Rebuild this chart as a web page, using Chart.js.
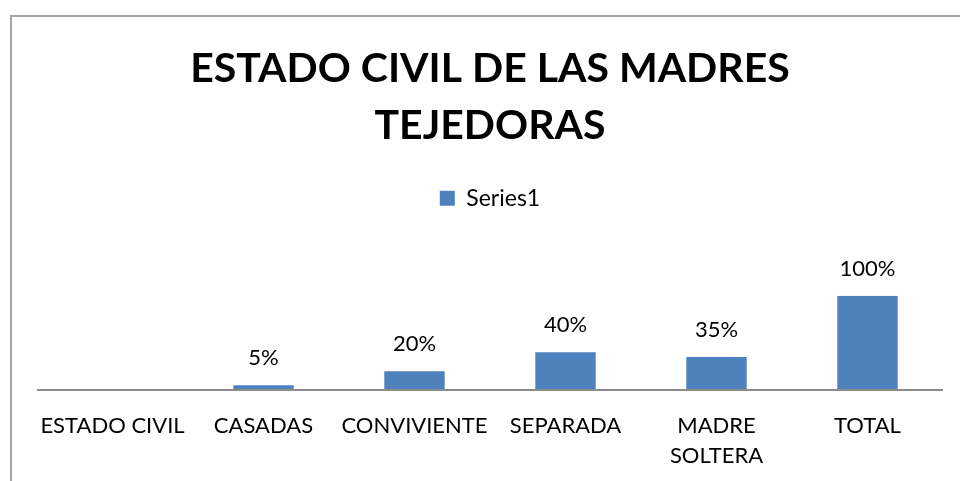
<!DOCTYPE html>
<html>
    <head>
        <meta charset="utf-8" />
        <title>Estado civil de las madres tejedoras</title>
        <script src="https://cdn.jsdelivr.net/npm/chart.js@4.4.1/dist/chart.umd.min.js"></script>
        <style>
            body { margin: 0; background: #fff; }
            #wrap { position: relative; width: 960px; height: 481px; }
            #frame {
                position: absolute; left: 10px; top: 15px; right: 0; bottom: 0;
                border-left: 2px solid #a6a6a6; border-top: 2px solid #a6a6a6;
                pointer-events: none;
            }
        </style>
        <script>
            // data
            let categories = [ "ESTADO CIVIL", "CASADAS", "CONVIVIENTE", "SEPARADA", ["MADRE", "SOLTERA"], "TOTAL" ];
            let percents = [ null, 5, 20, 40, 35, 100 ];
            let seriesName = "Series1";
            let titleLines = [ "ESTADO CIVIL DE LAS MADRES", "TEJEDORAS" ];

            let fontName = "Lato";

            // value labels above each bar + the category axis line
            let barLabels = {
                id: "barLabels",
                beforeInit(chart) {
                    // leave room under the legend like the original
                    let fit = chart.legend.fit;
                    chart.legend.fit = function() {
                        fit.call(this);
                        this.height += 76;
                    };
                },
                afterDatasetsDraw(chart) {
                    let ctx = chart.ctx;
                    let area = chart.chartArea;
                    ctx.save();
                    ctx.strokeStyle = "#8c8c8c";
                    ctx.lineWidth = 2;
                    ctx.beginPath();
                    ctx.moveTo(area.left, area.bottom);
                    ctx.lineTo(area.right, area.bottom);
                    ctx.stroke();

                    let meta = chart.getDatasetMeta(0);
                    ctx.font = "22px " + fontName;
                    ctx.fillStyle = "#000";
                    ctx.textAlign = "center";
                    ctx.textBaseline = "alphabetic";
                    meta.data.forEach((bar, i) => {
                        if (percents[i] == null) return;
                        ctx.fillText(percents[i] + "%", bar.x, bar.y - 20);
                    });
                    ctx.restore();
                }
            };

            function drawChart()
            {
                new Chart("myChart", {
                    type: "bar",
                    data: {
                        labels: categories,
                        datasets: [{
                            label: seriesName,
                            data: percents,
                            backgroundColor: "#4F81BD",
                            barPercentage: 0.4,
                            categoryPercentage: 1
                        }]
                    },
                    options: {
                        responsive: false,
                        animation: false,
                        layout: { padding: { left: 37, right: 17, top: 30, bottom: 0 } },
                        plugins: {
                            title: {
                                display: true,
                                text: titleLines,
                                color: "#000",
                                font: { family: fontName, size: 41, weight: "bold", lineHeight: 1.4 },
                                padding: { top: 10, bottom: 22 }
                            },
                            legend: {
                                labels: {
                                    color: "#000",
                                    font: { family: fontName, size: 23 },
                                    boxWidth: 15,
                                    boxHeight: 15,
                                    padding: 10
                                }
                            },
                            tooltip: { enabled: false }
                        },
                        scales: {
                            x: {
                                grid: { display: false, drawTicks: false },
                                border: { display: false },
                                ticks: {
                                    color: "#000",
                                    font: { family: fontName, size: 22, lineHeight: 1.36 },
                                    maxRotation: 0,
                                    autoSkip: false,
                                    padding: 21
                                },
                                afterFit(scale) { scale.height = 91; }
                            },
                            y: {
                                display: false,
                                min: 0,
                                max: 100
                            }
                        }
                    },
                    plugins: [ barLabels ]
                });
            }
        </script>
    </head>

    <body onload="drawChart()">
        <div id="wrap">
            <canvas id="myChart" width="960" height="481"></canvas>
            <div id="frame"></div>
        </div>
    </body>
</html>
